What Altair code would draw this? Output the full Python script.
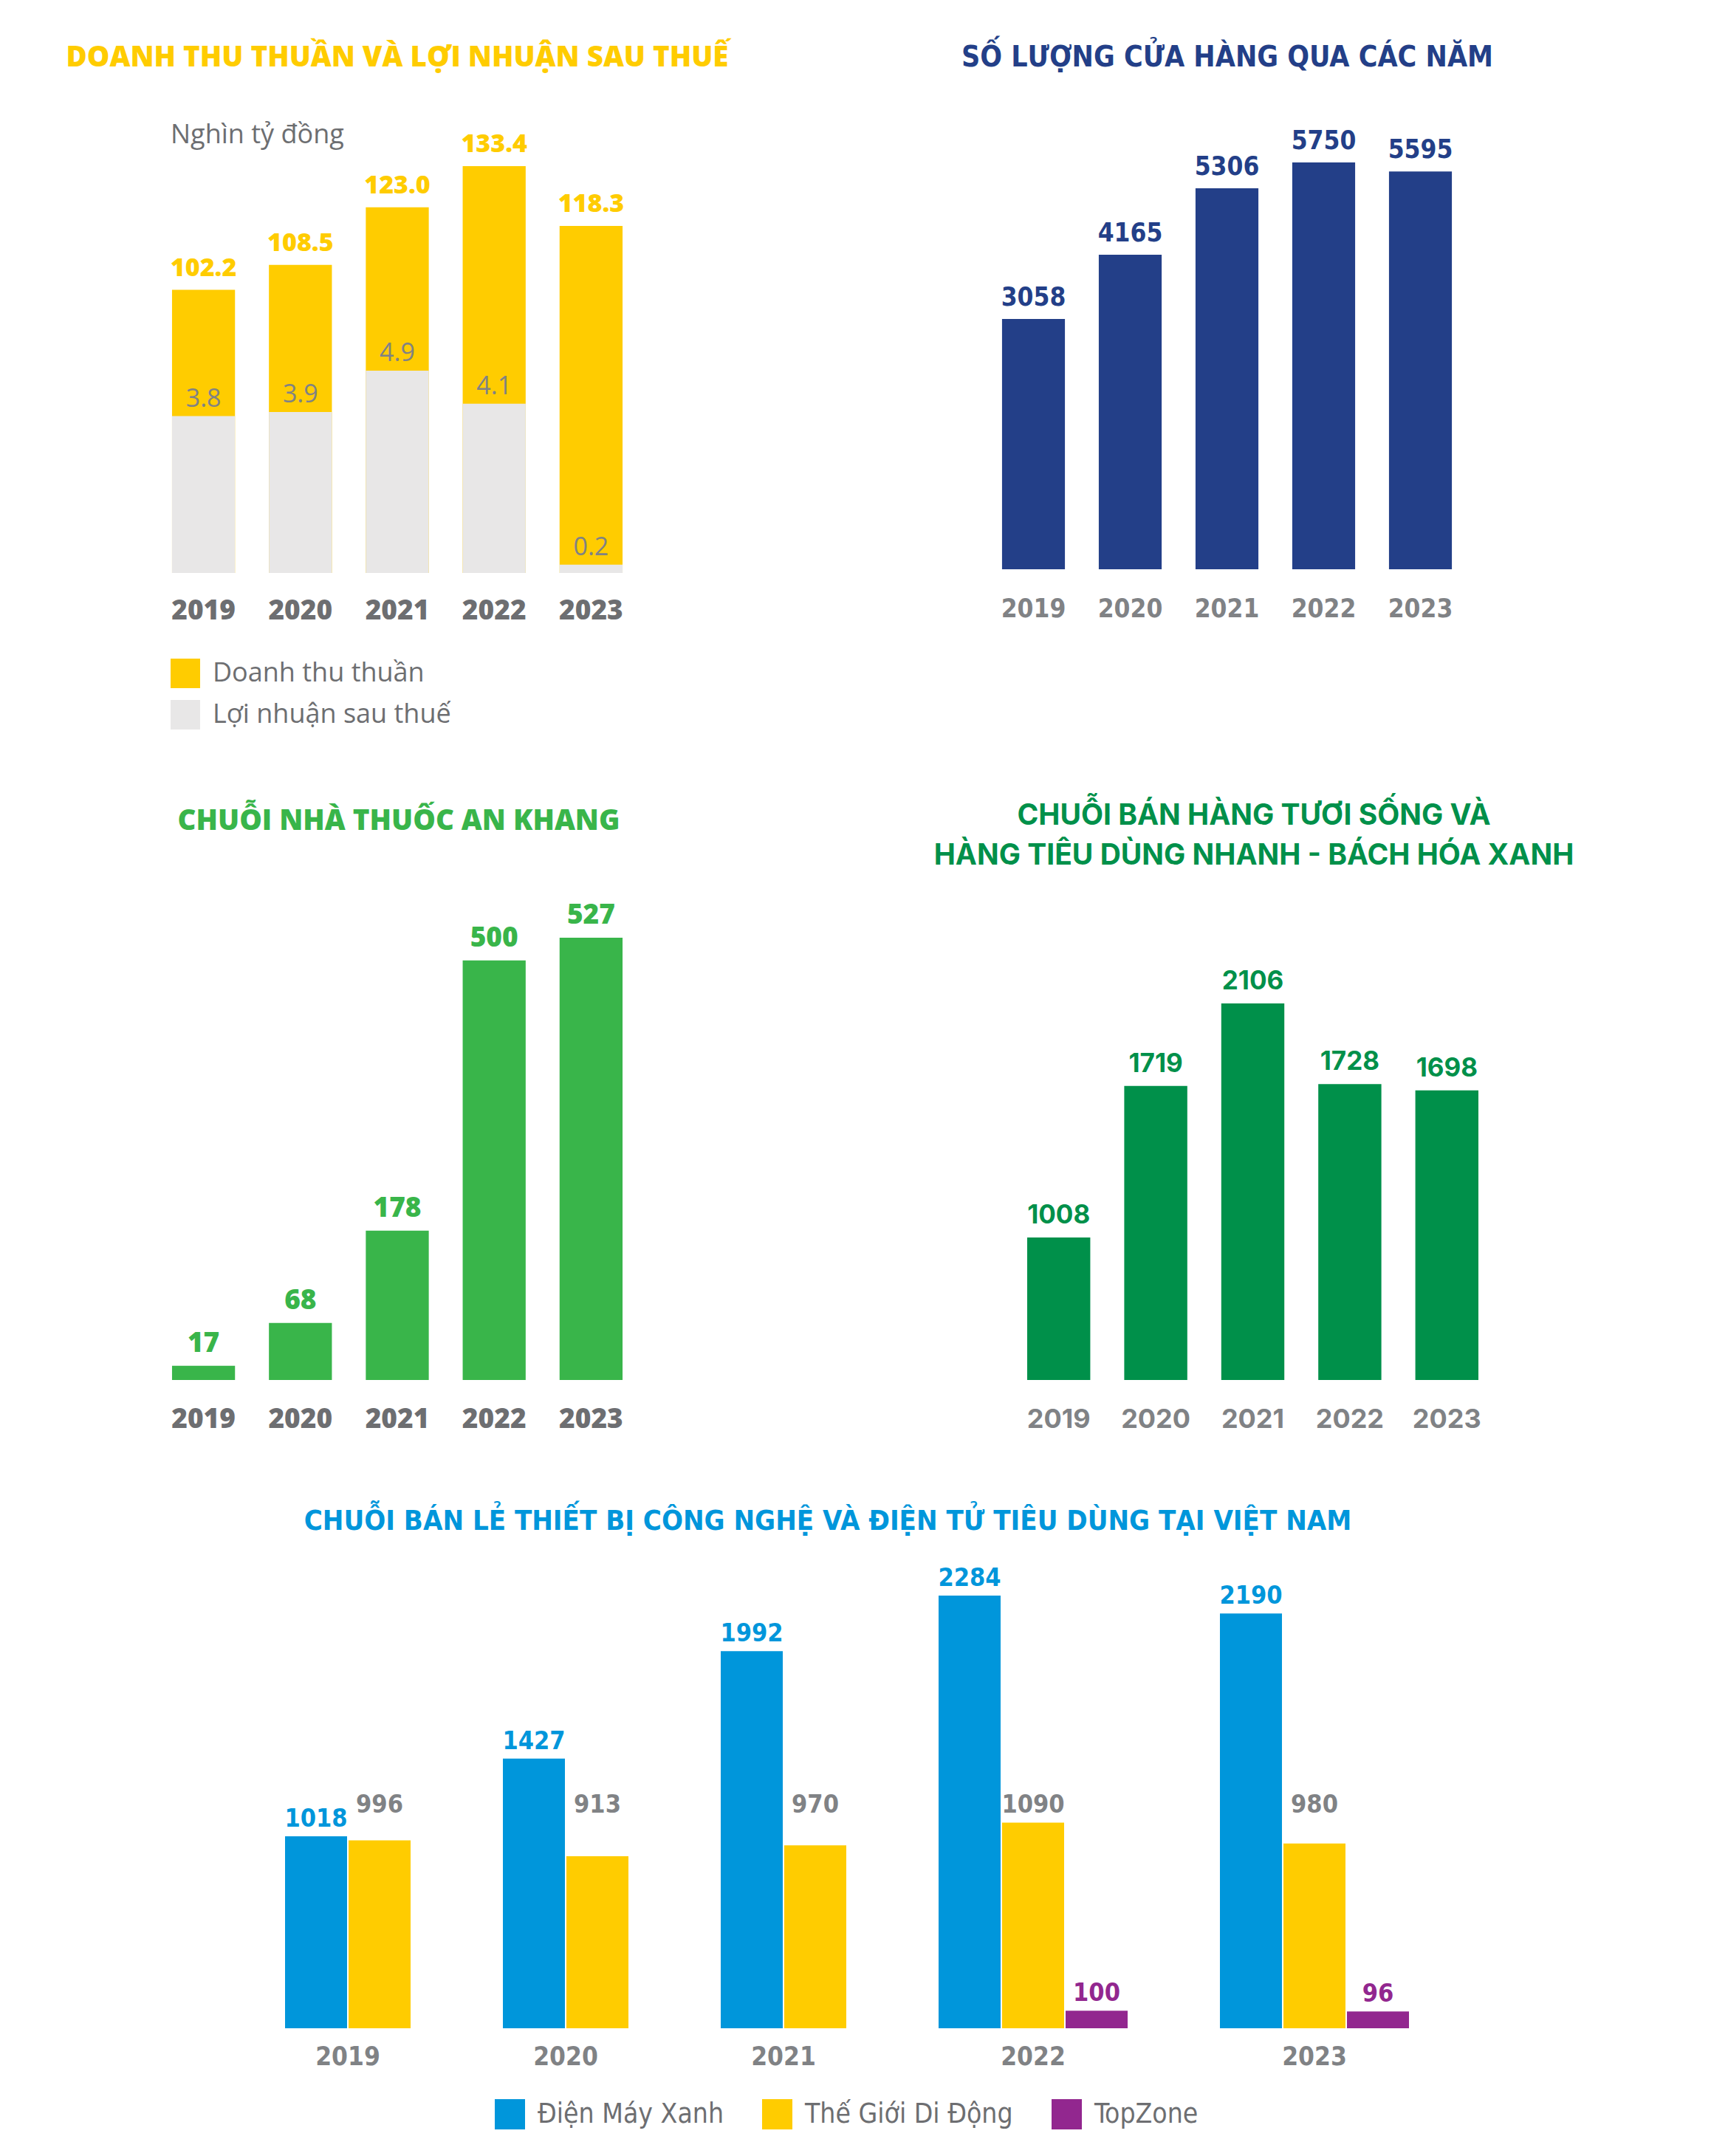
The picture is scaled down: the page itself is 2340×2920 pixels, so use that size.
import altair as alt
import pandas as pd

# ---------------- data ----------------
years = ["2019", "2020", "2021", "2022", "2023"]
revenue = [102.2, 108.5, 123.0, 133.4, 118.3]
profit = [3.8, 3.9, 4.9, 4.1, 0.2]
stores = [3058, 4165, 5306, 5750, 5595]
ankhang = [17, 68, 178, 500, 527]
bhx = [1008, 1719, 2106, 1728, 1698]
dmx = [1018, 1427, 1992, 2284, 2190]
tgdd = [996, 913, 970, 1090, 980]
topzone = [None, None, None, 100, 96]

legend1_names = ["Doanh thu thuần", "Lợi nhuận sau thuế"]
series5 = ["Điện Máy Xanh", "Thế Giới Di Động", "TopZone"]

T1 = "DOANH THU THUẦN VÀ LỢI NHUẬN SAU THUẾ"
T2 = "SỐ LƯỢNG CỬA HÀNG QUA CÁC NĂM"
T3 = "CHUỖI NHÀ THUỐC AN KHANG"
T4 = "CHUỖI BÁN HÀNG TƯƠI SỐNG VÀ\nHÀNG TIÊU DÙNG NHANH - BÁCH HÓA XANH"
T5 = "CHUỖI BÁN LẺ THIẾT BỊ CÔNG NGHỆ VÀ ĐIỆN TỬ TIÊU DÙNG TẠI VIỆT NAM"
UNIT = "Nghìn tỷ đồng"

# ---------------- styles ----------------
M = 8
YELLOW = "#ffcc00"
LGREY = "#e8e7e7"
NAVY = "#233f88"
GREEN1 = "#39b54a"
GREEN2 = "#00904a"
BLUE = "#0096db"
PURPLE = "#92278f"
GREY_TXT = "#6d6e71"
GREY_TXT2 = "#808285"
GEO = "Open Sans"
NARROW = "Liberation Sans Narrow, DejaVu Sans Condensed, sans-serif"
INTER = "Inter"
HEAVY = 800


def bx(x0, x1):
    return alt.Scale(domain=years, range=[x0 - M, x1 - M], paddingInner=0.35, paddingOuter=0.175)


def ys(dmin, dmax, bottom, top):
    return alt.Scale(domain=[dmin, dmax], range=[bottom - M, top - M], nice=False, zero=False)


def title(text, x, y, font, size, color, align="center", weight="bold", line_height=None):
    kw = dict(align=align, baseline="alphabetic", font=font, fontSize=size,
              fontWeight=weight, color=color)
    if line_height:
        kw.update(lineBreak="\n", lineHeight=line_height)
    return alt.Chart(pd.DataFrame({"t": [text]})).mark_text(**kw).encode(
        x=alt.value(x - M), y=alt.value(y - M), text="t:N")


def simple_panel(vals, color, xsc, dmin, ysc, fmt, vfont, vsize, vdy, vcolor,
                 yfont, ysize, ydy, ycolor, weight="bold"):
    df = pd.DataFrame({"year": years, "v": vals})
    base = alt.Chart(df).transform_calculate(b=str(dmin))
    X = alt.X("year:N", scale=xsc, axis=None)
    bars = base.mark_bar(color=color).encode(
        x=X, y=alt.Y("v:Q", scale=ysc, axis=None), y2="b:Q")
    labels = base.mark_text(font=vfont, fontSize=vsize, fontWeight=weight, color=vcolor,
                            baseline="alphabetic", dy=vdy).encode(
        x=X, y=alt.Y("v:Q", scale=ysc, axis=None), text=alt.Text("v:Q", format=fmt))
    yrs = base.mark_text(
        font=yfont, fontSize=ysize, fontWeight=weight, color=ycolor,
        baseline="alphabetic", dy=ydy).encode(
        x=X, y=alt.Y("b:Q", scale=ysc, axis=None), text="year:N")
    return [bars, labels, yrs]


layers = []

# ---------------- chart 1 ----------------
x1s = bx(210, 866)
REV_MIN = 30.8
y1rev = ys(REV_MIN, 133.4, 776, 225)
y1pro = ys(0, 4.9, 776, 502)
df1 = pd.DataFrame({"year": years, "rev": revenue, "pro": profit,
                    "s_rev": legend1_names[0], "s_pro": legend1_names[1]})
c1 = alt.Chart(df1).transform_calculate(b=str(REV_MIN), z="0")
X1 = alt.X("year:N", scale=x1s, axis=None)
cs1 = alt.Scale(domain=legend1_names, range=[YELLOW, LGREY])
leg1 = alt.Legend(orient="none", legendX=231 - M, legendY=892 - M, title=None,
                  symbolType="square", symbolSize=1600, symbolStrokeWidth=0,
                  labelFont=GEO, labelFontSize=36, labelColor=GREY_TXT,
                  labelOffset=17, rowPadding=16, padding=0, labelLimit=800,
                  direction="vertical")
layers.append(c1.mark_bar().encode(
    x=X1, y=alt.Y("rev:Q", scale=y1rev, axis=None), y2="b:Q",
    color=alt.Color("s_rev:N", scale=cs1, legend=leg1)))
layers.append(c1.mark_bar().encode(
    x=X1, y=alt.Y("pro:Q", scale=y1pro, axis=None), y2="z:Q",
    color=alt.Color("s_pro:N", scale=cs1, legend=None)))
layers.append(c1.mark_text(font=GEO, fontSize=34, fontWeight=HEAVY, color=YELLOW,
                           baseline="alphabetic", dy=-19).encode(
    x=X1, y=alt.Y("rev:Q", scale=y1rev, axis=None), text=alt.Text("rev:Q", format=".1f")))
layers.append(c1.mark_text(font=GEO, fontSize=34, color=GREY_TXT2,
                           baseline="alphabetic", dy=-13).encode(
    x=X1, y=alt.Y("pro:Q", scale=y1pro, axis=None), text=alt.Text("pro:Q", format=".1f")))
layers.append(c1.mark_text(
    font=GEO, fontSize=37, fontWeight=HEAVY, color=GREY_TXT,
    baseline="alphabetic", dy=63).encode(
    x=X1, y=alt.Y("b:Q", scale=y1rev, axis=None), text="year:N"))
layers.append(title(T1, 538, 90, GEO, 38.5, YELLOW, weight=HEAVY))
layers.append(title(UNIT, 231, 194, GEO, 36, GREY_TXT, align="left", weight="normal"))

# ---------------- chart 2 ----------------
ST_MIN = -1243
layers += simple_panel(stores, NAVY, bx(1334, 1989), ST_MIN, ys(ST_MIN, 5750, 771, 220), "d",
                       NARROW, 35, -18, NAVY, NARROW, 35, 65, GREY_TXT2)
layers.append(title(T2, 1662, 90, NARROW, 39, NAVY))

# ---------------- chart 3 ----------------
layers += simple_panel(ankhang, GREEN1, bx(210, 866), 0, ys(0, 527, 1869, 1270), "d",
                       GEO, 37, -19, GREEN1, GEO, 37, 65, GREY_TXT, weight=HEAVY)
layers.append(title(T3, 540, 1124, GEO, 38.5, GREEN1, weight=HEAVY))

# ---------------- chart 4 ----------------
BHX_MIN = 340
layers += simple_panel(bhx, GREEN2, bx(1368, 2025), BHX_MIN, ys(BHX_MIN, 2106, 1869, 1359), "d",
                       INTER, 35, -19, GREEN2, INTER, 36, 65, GREY_TXT2)
layers.append(title(T4, 1698, 1117, INTER, 39, GREEN2, line_height=54))

# ---------------- chart 5 ----------------
GAP = 1.43
rows, centers = [], []
pos = 0.0
for i, yr in enumerate(years):
    start = pos
    for s, arr in zip(series5, [dmx, tgdd, topzone]):
        v = arr[i]
        if v is None:
            continue
        rows.append(dict(year=yr, series=s, value=v, x0=pos, x1=pos + 1, xc=pos + 0.5))
        pos += 1
    centers.append(dict(year=yr, xc=(start + pos) / 2))
    pos += GAP
xmax = pos - GAP
df5 = pd.DataFrame(rows)
dfc = pd.DataFrame(centers)
x5 = alt.Scale(domain=[0, xmax], range=[385 - M, 1909 - M], nice=False, zero=False)
y5 = ys(0, 2284, 2748, 2160)
leg5 = alt.Legend(orient="none", legendX=670 - M, legendY=2843 - M, title=None,
                  direction="horizontal", symbolType="square", symbolSize=1681,
                  symbolStrokeWidth=0, labelFont=NARROW, labelFontSize=37,
                  labelColor=GREY_TXT, labelOffset=17, columnPadding=52, padding=0,
                  labelLimit=800)
layers.append(alt.Chart(df5).transform_calculate(b="0").mark_bar(
    stroke="white", strokeWidth=2).encode(
    x=alt.X("x0:Q", scale=x5, axis=None), x2="x1:Q",
    y=alt.Y("value:Q", scale=y5, axis=None), y2="b:Q",
    color=alt.Color("series:N", scale=alt.Scale(domain=series5, range=[BLUE, YELLOW, PURPLE]),
                    legend=leg5)))
layers.append(alt.Chart(df5).transform_joinaggregate(
    smax="max(value)", groupby=["series"]).transform_calculate(
    ylab="datum.series === 'Thế Giới Di Động' ? datum.smax : datum.value").mark_text(
    font=NARROW, fontSize=34, fontWeight="bold", baseline="alphabetic", dy=-12).encode(
    x=alt.X("xc:Q", scale=x5, axis=None),
    y=alt.Y("ylab:Q", scale=y5, axis=None),
    text=alt.Text("value:Q", format="d"),
    color=alt.Color("series:N", scale=alt.Scale(domain=series5, range=[BLUE, GREY_TXT2, PURPLE]),
                    legend=None)))
layers.append(alt.Chart(dfc).transform_calculate(b="0").mark_text(
    font=NARROW, fontSize=35, fontWeight="bold", color=GREY_TXT2,
    baseline="alphabetic", dy=49).encode(
    x=alt.X("xc:Q", scale=x5, axis=None),
    y=alt.Y("b:Q", scale=y5, axis=None), text="year:N"))
layers.append(title(T5, 1121, 2072, NARROW, 38, BLUE))

chart = alt.layer(*layers).resolve_scale(
    x="independent", y="independent", color="independent"
).properties(
    width=2324, height=2904, padding=0, background="white",
    autosize=alt.AutoSizeParams(type="none")
).configure_view(stroke=None)

chart.save("out.html", embed_options={"renderer": "svg", "actions": False})
